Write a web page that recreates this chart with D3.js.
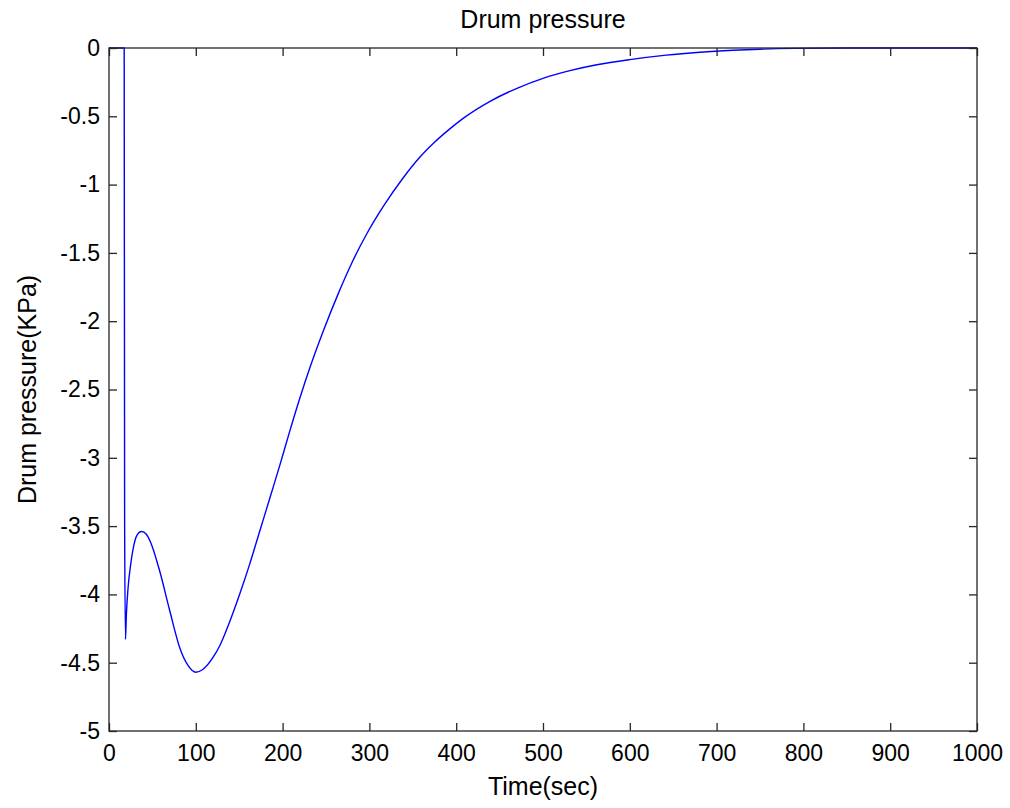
<!DOCTYPE html>
<html>
<head>
<meta charset="utf-8">
<script src="https://cdn.jsdelivr.net/npm/d3@7"></script>
<style>
  body { margin: 0; background: #fff; }
  svg text { font-family: Arial, "Liberation Sans", sans-serif; fill: #000; }
</style>
</head>
<body>
<svg id="chart" width="1010" height="808"></svg>
<script>
// time (sec) and drum pressure (KPa)
const timeSec = [0, 17.5, 18, 19, 20, 22, 25, 28, 32, 37.5, 43, 48, 58, 70, 82, 91, 100, 108, 120, 128, 136,
  151, 162, 174, 187, 197, 208, 220, 232, 247, 264, 280, 297, 316, 339, 358, 375, 393, 408, 439, 470, 500, 531, 562,
  600, 642, 681, 719, 750, 790, 850, 900, 950, 1000];
const pressure = [0, 0, -3.47, -4.33, -4.15, -3.95, -3.78, -3.66, -3.57, -3.54, -3.56, -3.62, -3.82, -4.12, -4.40, -4.52, -4.57, -4.55, -4.46, -4.37, -4.25,
  -3.99, -3.78, -3.53, -3.26, -3.05, -2.81, -2.56, -2.33, -2.07, -1.80, -1.57, -1.36, -1.16, -0.95, -0.80, -0.69, -0.59, -0.515, -0.39, -0.295, -0.222, -0.166, -0.123,
  -0.085, -0.052, -0.031, -0.017, -0.009, -0.003, 0, 0, 0, 0];
const xTicks = [0, 100, 200, 300, 400, 500, 600, 700, 800, 900, 1000];
const yTicks = [0, -0.5, -1, -1.5, -2, -2.5, -3, -3.5, -4, -4.5, -5];

const plotL = 109, plotR = 977, plotT = 48, plotB = 731;
const svg = d3.select("#chart");

const x = d3.scaleLinear().domain([0, 1000]).range([plotL, plotR]);
const y = d3.scaleLinear().domain([-5, 0]).range([plotB, plotT]);

const fmt = d => String(d);

// the curve
const pts = timeSec.map((t, i) => [t, pressure[i]]);
svg.append("path")
  .datum(pts)
  .attr("fill", "none")
  .attr("stroke", "#0000ff")
  .attr("stroke-width", 1.4)
  .attr("d", d3.line().x(d => x(d[0])).y(d => y(d[1])).curve(d3.curveMonotoneX));

// axes, ticks pointing inwards like matlab
const gx = svg.append("g").attr("transform", `translate(0,${plotB})`)
  .call(d3.axisBottom(x).tickValues(xTicks).tickFormat(fmt).tickSizeInner(-8).tickSizeOuter(0).tickPadding(14));
const gy = svg.append("g").attr("transform", `translate(${plotL},0)`)
  .call(d3.axisLeft(y).tickValues(yTicks).tickFormat(fmt).tickSizeInner(-8).tickSizeOuter(0).tickPadding(9));
const gt = svg.append("g").attr("transform", `translate(0,${plotT})`)
  .call(d3.axisTop(x).tickValues(xTicks).tickFormat("").tickSizeInner(-8).tickSizeOuter(0));
const gr = svg.append("g").attr("transform", `translate(${plotR},0)`)
  .call(d3.axisRight(y).tickValues(yTicks).tickFormat("").tickSizeInner(-8).tickSizeOuter(0));

[gx, gy, gt, gr].forEach(g => {
  g.select(".domain").remove();
  g.selectAll(".tick line").attr("stroke", "#262626").attr("stroke-width", 1.3);
  g.selectAll(".tick text").attr("font-size", 23).attr("fill", "#000");
});

svg.append("rect")
  .attr("x", plotL).attr("y", plotT)
  .attr("width", plotR - plotL).attr("height", plotB - plotT)
  .attr("fill", "none").attr("stroke", "#262626").attr("stroke-width", 1.3);

// titles
svg.append("text").attr("x", (plotL + plotR) / 2).attr("y", 28)
  .attr("text-anchor", "middle").attr("font-size", 25).text("Drum pressure");
svg.append("text").attr("x", (plotL + plotR) / 2).attr("y", 795)
  .attr("text-anchor", "middle").attr("font-size", 25).text("Time(sec)");
svg.append("text")
  .attr("transform", `translate(36,${(plotT + plotB) / 2}) rotate(-90)`)
  .attr("text-anchor", "middle").attr("font-size", 25).text("Drum pressure(KPa)");
</script>
</body>
</html>
